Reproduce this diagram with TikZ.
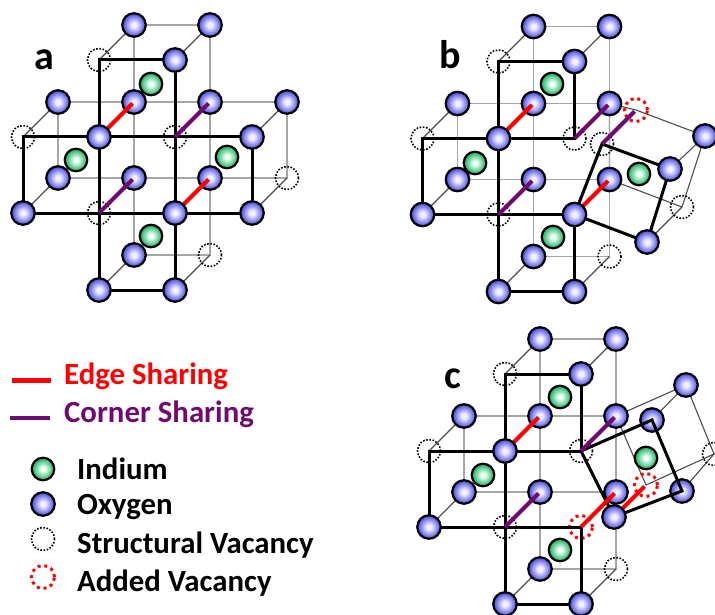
\documentclass[tikz,border=0pt]{standalone}
\usepackage{fontspec}
\setmainfont{Carlito}
\usetikzlibrary{calc}

\definecolor{edgered}{RGB}{255, 0, 0}
\definecolor{cornerpurple}{RGB}{112, 10, 112}
\definecolor{oxyblue}{RGB}{60, 60, 225}
\definecolor{oxylight}{RGB}{240, 240, 255}
\definecolor{indgreen}{RGB}{0, 175, 85}
\definecolor{indlight}{RGB}{238, 252, 242}
\pgfdeclareradialshading{oxyshade}{\pgfpointorigin}{color(0bp)=(oxylight); color(5bp)=(oxylight); color(26bp)=(oxyblue); color(50bp)=(oxyblue)}
\pgfdeclareradialshading{indshade}{\pgfpointorigin}{color(0bp)=(indlight); color(5bp)=(indlight); color(26bp)=(indgreen); color(50bp)=(indgreen)}

\tikzset{
	oxy/.style = {circle, draw = black, line width = 2.2pt, minimum size = 23.5pt, inner sep = 0pt, shading = oxyshade},
	ind/.style = {circle, draw = black, line width = 2.2pt, minimum size = 22.5pt, inner sep = 0pt, shading = indshade},
	vac/.style = {circle, draw = black, line width = 1.6pt, dash pattern = on 1.6pt off 1.6pt, minimum size = 23pt, inner sep = 0pt},
	addvac/.style = {circle, draw = edgered, line width = 3pt, dash pattern = on 3pt off 3.8pt, minimum size = 23pt, inner sep = 0pt},
	bold/.style = {line width = 3pt, black, line cap = round},
	backline/.style = {line width = 1.1pt, black!35},
	sideline/.style = {line width = 1.1pt, black!70},
	edgeline/.style = {line width = 4pt, edgered, shorten > = 2pt},
	cornerline/.style = {line width = 4pt, cornerpurple, shorten > = 2pt},
	lbl/.style = {font = \fontsize{40}{40}\selectfont\bfseries, inner sep = 0pt},
	keytext/.style = {font = \fontsize{30.8}{31}\selectfont\bfseries, anchor = west, inner sep = 0pt}
}

\begin{document}
\begin{tikzpicture}[x = 1pt, y = -1pt]
	\useasboundingbox (0, 0) rectangle (715, 615);

	\foreach \p/\ox/\oy in {a/0/0, b/399.5/1.5, c/406/314} {
		\foreach \n/\x/\y in {A/99/60, B/175/60, C/23/137, D/99/137, E/175/137, F/252/137, G/23/213, H/99/213, I/175/213, J/252/213, K/99/290, L/175/290} {
			\coordinate (\p f\n) at (\ox + \x, \oy + \y);
			\coordinate (\p b\n) at (\ox + \x + 35, \oy + \y - 35);
		}
	}
	\coordinate (brA) at (602, 144);
	\coordinate (brB) at (670, 169);
	\coordinate (brJ) at (647, 242);
	\coordinate (brC) at (636, 110);
	\coordinate (brD) at (705, 136);
	\coordinate (brF) at (682, 207);
	\coordinate (crB) at (652, 420);
	\coordinate (crJ) at (682, 491);
	\coordinate (crI) at (614, 517);
	\coordinate (crC) at (646, 485);
	\coordinate (crD) at (686, 385);
	\coordinate (crF) at (714, 454);
	\coordinate (crE) at (725, 449);

	\draw [backline] (abE) -- (abF) -- (abJ) -- (abI);
	\draw [sideline] (afF) -- (abF);
	\draw [sideline] (afJ) -- (abJ);
	\draw [sideline] (bbE) -- (brC) -- (brD) -- (brF) -- (bbI) -- cycle;
	\draw [sideline] (brB) -- (brD);
	\draw [sideline] (brJ) -- (brF);
	\draw [sideline] (cbE) -- (crD) -- (crF);
	\draw [sideline] (cbE) -- (crC) -- (crE);
	\draw [sideline] (crB) -- (crD);
	\draw [sideline] (crJ) -- (crF);

	\foreach \p in {a, b, c} {
		\draw [backline] (\p bA) -- (\p bB) -- (\p bL) -- (\p bK) -- cycle;
		\draw [backline] (\p bC) -- (\p bE);
		\draw [backline] (\p bC) -- (\p bG) -- (\p bI);
		\foreach \n in {A, B, C, G, K, L} {
			\draw [sideline] (\p f\n) -- (\p b\n);
		}
		\foreach \n in {fA, fC, fE, fH, bL} {
			\node [vac] (\p V\n) at (\p\n) {};
		}
		\foreach \n in {bA, bB, bC, bD, bE, bG, bH, bI, bK} {
			\node [oxy] (\p O\n) at (\p\n) {};
		}
	}
	\node [vac] (aVbJ) at (abJ) {};
	\node [oxy] (aObF) at (abF) {};
	\node [vac] (bVrA) at (brA) {};
	\node [vac] (bVrF) at (brF) {};
	\node [addvac] (bVrC) at (brC) {};
	\node [oxy] (bOrD) at (brD) {};
	\node [oxy] (cOrD) at (crD) {};
	\node [oxy] (cOrB) at (crB) {};
	\node [oxy] (cOrJ) at (crJ) {};
	\node [vac] (cVrF) at (crF) {};
	\node [addvac] (cVrC) at (crC) {};
	\node [addvac] (cVfI) at (cfI) {};

	\node [ind] (aInT) at (151, 84) {};
	\node [ind] (aInL) at (76, 160) {};
	\node [ind] (aInR) at (227, 157) {};
	\node [ind] (aInB) at (151, 236) {};
	\node [ind] (bInT) at (552, 84) {};
	\node [ind] (bInL) at (475, 163) {};
	\node [ind] (bInB) at (553, 237) {};
	\node [ind] (bInR) at (639, 174) {};
	\node [ind] (cInT) at (560, 397) {};
	\node [ind] (cInL) at (483, 475) {};
	\node [ind] (cInB) at (560, 550) {};
	\node [ind] (cInR) at (646, 458) {};

	\foreach \p in {a, b, c} {
		\draw [bold] (\p fB) -- (\p fA) -- (\p fK) -- (\p fL) -- (\p fI) -- (\p fG) -- (\p fC) -- (\p fE) -- (\p fB);
	}
	\draw [bold] (afE) -- (afF) -- (afJ) -- (afI) -- (afE);
	\draw [bold] (bfI) -- (brA) -- (brB) -- (brJ) -- cycle;
	\draw [bold] (cfE) -- (crB) -- (crJ) -- (crI) -- cycle;

	\foreach \p in {a, b, c} {
		\draw [edgeline] (\p fD) -- (\p bD);
		\draw [edgeline] (\p fI) -- (\p bI);
		\draw [cornerline] (\p fE) -- (\p bE);
		\draw [cornerline] (\p fH) -- (\p bH);
		\foreach \n in {fB, fD, fG, fK, fL} {
			\node [oxy] (\p O\n) at (\p\n) {};
		}
	}
	\draw [cornerline] (brA) -- (brC);
	\draw [edgeline] (crI) -- (crC);
	\foreach \n in {afF, afI, afJ, bfI, brB, brJ, crI} {
		\node [oxy] (O\n) at (\n) {};
	}

	\node [lbl] (lblA) at (44, 60) {a};
	\node [lbl] (lblB) at (450, 55) {b};
	\node [lbl] (lblC) at (453, 379) {c};

	\coordinate (edgeL) at (12, 380);
	\coordinate (edgeR) at (51, 380);
	\coordinate (cornerL) at (10, 418);
	\coordinate (cornerR) at (50, 418);
	\draw [line width = 5pt, edgered] (edgeL) -- (edgeR);
	\draw [line width = 4pt, cornerpurple] (cornerL) -- (cornerR);
	\node [keytext, text = edgered] (txtEdge) at (64, 376) {Edge Sharing};
	\node [keytext, text = cornerpurple] (txtCorner) at (64, 414) {Corner Sharing};
	\node [ind] (keyInd) at (43, 469) {};
	\node [oxy] (keyOxy) at (43, 504) {};
	\node [vac] (keyVac) at (43, 539) {};
	\node [addvac] (keyAdd) at (43, 577) {};
	\node [keytext] (txtInd) at (77, 469) {Indium};
	\node [keytext] (txtOxy) at (77, 507) {Oxygen};
	\node [keytext] (txtVac) at (77, 545) {Structural Vacancy};
	\node [keytext] (txtAdd) at (77, 583) {Added Vacancy};
\end{tikzpicture}
\end{document}
